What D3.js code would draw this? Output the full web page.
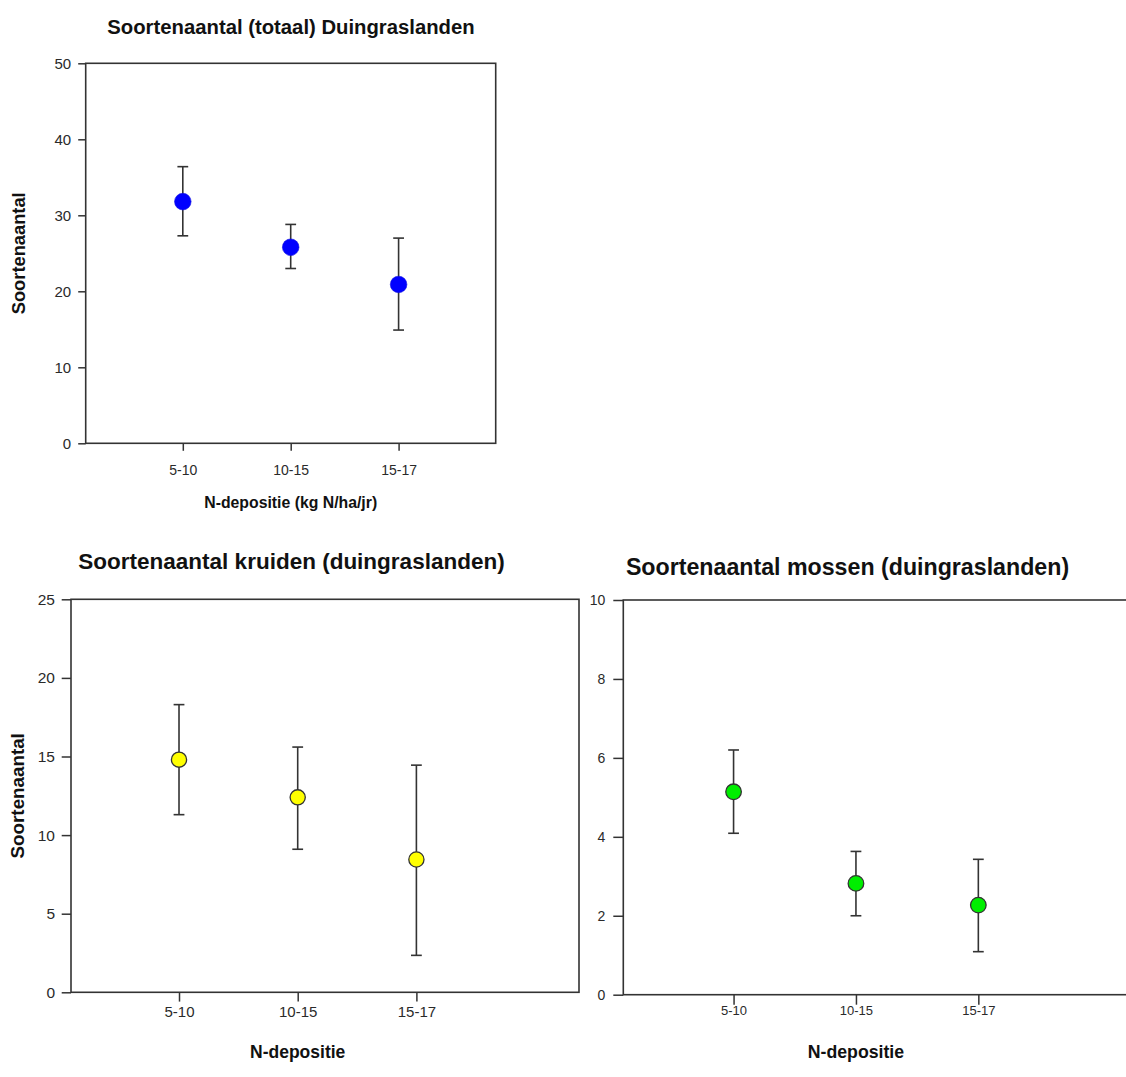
<!DOCTYPE html>
<html>
<head>
<meta charset="utf-8">
<script src="https://cdn.jsdelivr.net/npm/d3@7"></script>
<style>
  html, body { margin: 0; padding: 0; background: #fff; }
  svg { display: block; font-family: "Liberation Sans", Arial, sans-serif; }
</style>
</head>
<body>
<svg id="chart" width="1126" height="1077"></svg>
<script>
// ---- data ----
const categories = ["5-10", "10-15", "15-17"];

const totaalMean  = [31.8, 25.8, 20.9];
const totaalUpper = [36.4, 28.8, 27.0];
const totaalLower = [27.3, 23.0, 14.9];

const kruidenMean  = [14.8, 12.4, 8.45];
const kruidenUpper = [18.3, 15.6, 14.45];
const kruidenLower = [11.3, 9.1, 2.35];

const mossenMean  = [5.14, 2.82, 2.27];
const mossenUpper = [6.2, 3.63, 3.43];
const mossenLower = [4.09, 2.0, 1.09];

const totaalTicks  = [0, 10, 20, 30, 40, 50];
const kruidenTicks = [0, 5, 10, 15, 20, 25];
const mossenTicks  = [0, 2, 4, 6, 8, 10];

const titles = [
  "Soortenaantal (totaal) Duingraslanden",
  "Soortenaantal kruiden (duingraslanden)",
  "Soortenaantal mossen (duingraslanden)"
];
const yLabel = "Soortenaantal";
const xLabels = ["N-depositie (kg N/ha/jr)", "N-depositie", "N-depositie"];

// ---- panels (layout) ----
const panels = [
  {
    title: titles[0], mean: totaalMean, upper: totaalUpper, lower: totaalLower,
    ticks: totaalTicks, yMax: 50, xDom: [0.1, 3.9],
    left: 85.7, right: 495.7, top: 63.3, bottom: 443.3,
    fill: "#0000ff", stroke: "#1010e0", strokeW: 0.6, r: 8.3,
    titleSize: 20.3, titleX: 291, titleY: 34,
    yTickSize: 15, xTickSize: 14, xTickY: 475, tickLen: 7.5, tickGap: 7,
    yLabel: yLabel, yLabelSize: 18.3, yLabelX: 25,
    xLabel: xLabels[0], xLabelSize: 15.8, xLabelY: 508
  },
  {
    title: titles[1], mean: kruidenMean, upper: kruidenUpper, lower: kruidenLower,
    ticks: kruidenTicks, yMax: 25, xDom: [0.09, 4.37],
    left: 71, right: 579, top: 599.3, bottom: 992.3,
    fill: "#ffff00", stroke: "#333", strokeW: 1.3, r: 7.6,
    titleSize: 22.5, titleX: 291.5, titleY: 569,
    yTickSize: 15.5, xTickSize: 15, xTickY: 1017, tickLen: 9.3, tickGap: 6.7,
    yLabel: yLabel, yLabelSize: 18.8, yLabelX: 24,
    xLabel: xLabels[1], xLabelSize: 17.5, xLabelY: 1058
  },
  {
    title: titles[2], mean: mossenMean, upper: mossenUpper, lower: mossenLower,
    ticks: mossenTicks, yMax: 10, xDom: [0.099, 4.37],
    left: 623.3, right: 1146, top: 600, bottom: 994.7,
    fill: "#00ee00", stroke: "#333", strokeW: 1.3, r: 7.8,
    titleSize: 23.2, titleX: 847.5, titleY: 575,
    yTickSize: 14, xTickSize: 13, xTickY: 1015, tickLen: 10, tickGap: 8,
    yLabel: null,
    xLabel: xLabels[2], xLabelSize: 17.7, xLabelY: 1058
  }
];

const svg = d3.select("#chart");
const lineColor = "#333";

panels.forEach(p => {
  const x = d3.scaleLinear().domain(p.xDom).range([p.left, p.right]);
  const y = d3.scaleLinear().domain([0, p.yMax]).range([p.bottom, p.top]);
  const g = svg.append("g");

  // title
  g.append("text")
    .attr("x", p.titleX).attr("y", p.titleY)
    .attr("text-anchor", "middle")
    .attr("font-weight", "bold")
    .attr("font-size", p.titleSize)
    .attr("fill", "#111")
    .text(p.title);

  // frame
  g.append("rect")
    .attr("x", x(p.xDom[0])).attr("y", y(p.yMax))
    .attr("width", x(p.xDom[1]) - x(p.xDom[0]))
    .attr("height", y(0) - y(p.yMax))
    .attr("fill", "none").attr("stroke", lineColor).attr("stroke-width", 1.6);

  // y axis
  const yAxis = d3.axisLeft(y)
    .tickValues(p.ticks)
    .tickFormat(d3.format("d"))
    .tickSize(p.tickLen)
    .tickPadding(p.tickGap);
  const ya = g.append("g")
    .attr("transform", `translate(${x(p.xDom[0])},0)`)
    .call(yAxis);
  ya.select(".domain").remove();
  ya.selectAll(".tick line").attr("stroke", lineColor).attr("stroke-width", 1.5);
  ya.selectAll(".tick text")
    .attr("font-size", p.yTickSize)
    .attr("font-family", "Liberation Sans, Arial, sans-serif")
    .attr("fill", "#2a2a2a");

  // x axis
  const idx = categories.map((c, i) => i + 1);
  const xAxis = d3.axisBottom(x)
    .tickValues(idx)
    .tickFormat(d => categories[d - 1])
    .tickSize(p.tickLen)
    .tickPadding(0);
  const xa = g.append("g")
    .attr("transform", `translate(0,${y(0)})`)
    .call(xAxis);
  xa.select(".domain").remove();
  xa.selectAll(".tick line").attr("stroke", lineColor).attr("stroke-width", 1.5);
  xa.selectAll(".tick text")
    .attr("font-size", p.xTickSize)
    .attr("font-family", "Liberation Sans, Arial, sans-serif")
    .attr("fill", "#2a2a2a")
    .attr("dy", null)
    .attr("y", p.xTickY - y(0));

  // y label
  if (p.yLabel) {
    g.append("text")
      .attr("transform", `translate(${p.yLabelX},${(y(0) + y(p.yMax)) / 2}) rotate(-90)`)
      .attr("text-anchor", "middle")
      .attr("font-weight", "bold")
      .attr("font-size", p.yLabelSize)
      .attr("fill", "#111")
      .text(p.yLabel);
  }

  // x label
  g.append("text")
    .attr("x", x(2)).attr("y", p.xLabelY)
    .attr("text-anchor", "middle")
    .attr("font-weight", "bold")
    .attr("font-size", p.xLabelSize)
    .attr("fill", "#111")
    .text(p.xLabel);

  // error bars
  const capHalf = 5.4;
  const data = categories.map((c, i) => ({ i: i + 1, m: p.mean[i], hi: p.upper[i], lo: p.lower[i] }));
  const eb = g.append("g").attr("stroke", lineColor).attr("stroke-width", 1.6).attr("fill", "none");
  eb.selectAll("line.v").data(data).join("line").attr("class", "v")
    .attr("x1", d => x(d.i)).attr("x2", d => x(d.i))
    .attr("y1", d => y(d.hi)).attr("y2", d => y(d.lo));
  eb.selectAll("line.ct").data(data).join("line").attr("class", "ct")
    .attr("x1", d => x(d.i) - capHalf).attr("x2", d => x(d.i) + capHalf)
    .attr("y1", d => y(d.hi)).attr("y2", d => y(d.hi));
  eb.selectAll("line.cb").data(data).join("line").attr("class", "cb")
    .attr("x1", d => x(d.i) - capHalf).attr("x2", d => x(d.i) + capHalf)
    .attr("y1", d => y(d.lo)).attr("y2", d => y(d.lo));

  // markers
  g.append("g").selectAll("circle").data(data).join("circle")
    .attr("cx", d => x(d.i)).attr("cy", d => y(d.m))
    .attr("r", p.r)
    .attr("fill", p.fill)
    .attr("stroke", p.stroke).attr("stroke-width", p.strokeW);
});
</script>
</body>
</html>
